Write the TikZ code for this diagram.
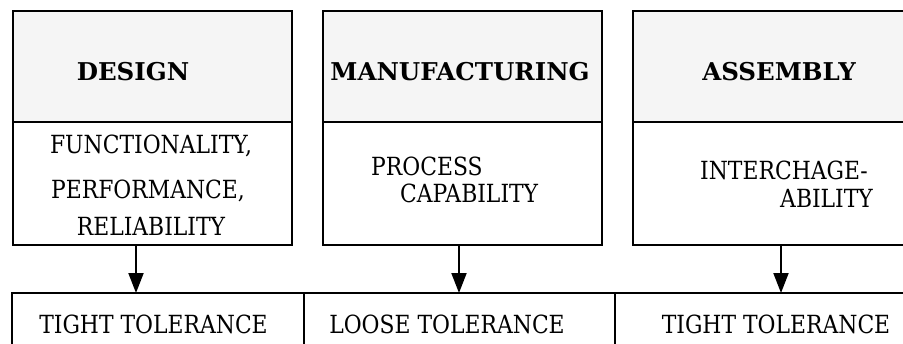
\documentclass[tikz,border=0pt]{standalone}
\usepackage{fontspec}
\setmainfont{DejaVu Serif}[FakeStretch=0.875]
\newfontfamily\headfont{DejaVu Serif}[FakeStretch=1.0]
\usetikzlibrary{arrows.meta}
\begin{document}
\begin{tikzpicture}[x=1pt,y=-1pt,
  frame/.style={rectangle, draw=black, line width=2.6pt, inner sep=0pt, outer sep=0pt, minimum width=279pt},
  headbox/.style={frame, fill=black!4, minimum height=111pt},
  bodybox/.style={frame, minimum height=123pt},
  cellbox/.style={rectangle, draw=black, line width=2.4pt, inner sep=0pt, outer sep=0pt, minimum height=87pt},
  txt/.style={inner sep=0pt, anchor=base, font=\fontsize{25}{30}\selectfont},
  hdtxt/.style={txt, font=\headfont\fontsize{24.5}{30}\selectfont\bfseries},
  flow/.style={line width=2pt, -{Triangle[length=20pt,width=15pt]}}]
  \useasboundingbox (0,0) rectangle (903,343);
  \clip (0,0) rectangle (903,343);

  % upper column boxes: shaded heading above, requirement below
  \node[headbox] (dhead) at (152.5,66.5) {};
  \node[bodybox] (dbody) at (152.5,183.5) {};
  \node[headbox] (mhead) at (462.5,66.5) {};
  \node[bodybox] (mbody) at (462.5,183.5) {};
  \node[headbox] (ahead) at (772.5,66.5) {};
  \node[bodybox] (abody) at (772.5,183.5) {};

  % lower row of tolerance cells
  \node[cellbox, minimum width=292pt] (tight1) at (158,336.5) {};
  \node[cellbox, minimum width=311pt] (loose) at (459.5,336.5) {};
  \node[cellbox, minimum width=315pt] (tight2) at (772.5,336.5) {};

  % headings
  \node[hdtxt] (tdesign) at (133,80) {DESIGN};
  \node[hdtxt] (tmanuf) at (460,80) {MANUFACTURING};
  \node[hdtxt] (tassem) at (779,80) {ASSEMBLY};

  % requirements
  \node[txt] (tfunc) at (151,153) {FUNCTIONALITY,};
  \node[txt] (tperf) at (148,198) {PERFORMANCE,};
  \node[txt] (treli) at (151,235) {RELIABILITY};
  \node[txt, anchor=base west] (tproc) at (371,175) {PROCESS};
  \node[txt, anchor=base west] (tcapa) at (400,202) {CAPABILITY};
  \node[txt, anchor=base west] (tinter) at (700,179) {INTERCHAGE-};
  \node[txt, anchor=base west] (tabil) at (780,207) {ABILITY};

  % tolerance labels
  \node[txt] (ttight1) at (153.5,333) {TIGHT TOLERANCE};
  \node[txt] (tloose) at (447,333) {LOOSE TOLERANCE};
  \node[txt] (ttight2) at (776,333) {TIGHT TOLERANCE};

  % flow from each requirement down to its tolerance
  \draw[flow] ([xshift=-16.5pt]dbody.south) -- ([xshift=-16.5pt]dbody.south |- tight1.north);
  \draw[flow] ([xshift=-3.5pt]mbody.south) -- ([xshift=-3.5pt]mbody.south |- loose.north);
  \draw[flow] ([xshift=8.5pt]abody.south) -- ([xshift=8.5pt]abody.south |- tight2.north);
\end{tikzpicture}
\end{document}
